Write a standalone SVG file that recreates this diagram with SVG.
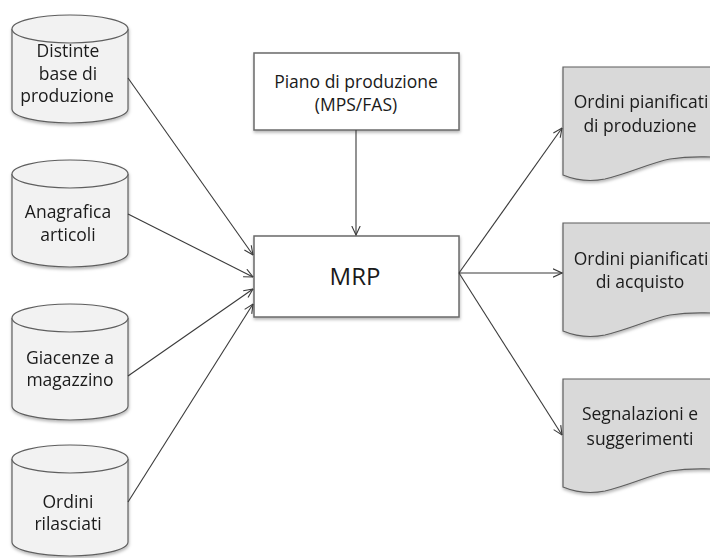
<svg xmlns="http://www.w3.org/2000/svg" width="710" height="558" viewBox="0 0 710 558">
  <defs>
    <marker id="arrow" viewBox="0 0 10 10" refX="9.5" refY="5" markerWidth="10" markerHeight="10" markerUnits="userSpaceOnUse" orient="auto">
      <path d="M0.5,0.8 L9.5,5 L0.5,9.2" fill="none" stroke="#3a3a3a" stroke-width="1.1"/>
    </marker>
    <filter id="shadow" x="-10%" y="-10%" width="130%" height="130%">
      <feDropShadow dx="0.5" dy="2" stdDeviation="1.5" flood-color="#000" flood-opacity="0.28"/>
    </filter>
  </defs>
  <style>
    .db { fill: #f2f2f2; stroke: #5f5f5f; stroke-width: 1.2; }
    .box { fill: #ffffff; stroke: #6a6a6a; stroke-width: 1.5; }
    .doc { fill: #d9d9d9; stroke: #5f5f5f; stroke-width: 1.2; }
    .lbl { font-family: "Open Sans", "Noto Sans", "Liberation Sans", sans-serif; font-size: 17.5px; fill: #1a1a1a; text-anchor: middle; }
    .big { font-size: 24px; }
    .conn { fill: none; stroke: #3a3a3a; stroke-width: 1.1; marker-end: url(#arrow); }
  </style>
  <rect width="710" height="558" fill="#ffffff"/>

  <!-- data stores (cylinders) -->
  <g id="distinte-base" filter="url(#shadow)">
    <path class="db" d="M12,29 V109 A58,14 0 0 0 128,109 V29"/>
    <ellipse class="db" cx="70" cy="29" rx="58" ry="14"/>
    <text class="lbl" x="68" y="57">Distinte</text>
    <text class="lbl" x="68" y="80">base di</text>
    <text class="lbl" x="67" y="102">produzione</text>
  </g>
  <g id="anagrafica-articoli" filter="url(#shadow)">
    <path class="db" d="M12,174 V253 A58,14 0 0 0 128,253 V174"/>
    <ellipse class="db" cx="70" cy="174" rx="58" ry="14"/>
    <text class="lbl" x="68" y="218">Anagrafica</text>
    <text class="lbl" x="68" y="241">articoli</text>
  </g>
  <g id="giacenze-magazzino" filter="url(#shadow)">
    <path class="db" d="M12,318 V406 A58,14 0 0 0 128,406 V318"/>
    <ellipse class="db" cx="70" cy="318" rx="58" ry="14"/>
    <text class="lbl" x="70" y="364">Giacenze a</text>
    <text class="lbl" x="70" y="386">magazzino</text>
  </g>
  <g id="ordini-rilasciati" filter="url(#shadow)">
    <path class="db" d="M12,459 V542 A58,14 0 0 0 128,542 V459"/>
    <ellipse class="db" cx="70" cy="459" rx="58" ry="14"/>
    <text class="lbl" x="68" y="508">Ordini</text>
    <text class="lbl" x="68" y="530">rilasciati</text>
  </g>

  <!-- process boxes -->
  <g id="piano-produzione">
    <rect class="box" x="254" y="53" width="205" height="77" filter="url(#shadow)"/>
    <text class="lbl" x="356" y="88">Piano di produzione</text>
    <text class="lbl" x="356" y="111">(MPS/FAS)</text>
  </g>
  <g id="mrp">
    <rect class="box" x="254" y="236" width="205" height="81" filter="url(#shadow)"/>
    <text class="lbl big" x="355" y="285">MRP</text>
  </g>

  <!-- output documents -->
  <g id="ordini-produzione" filter="url(#shadow)">
    <path class="doc" d="M563,67 H712 V157 C700,157 690,156 670,159 C650,163 630,173 605,179 C590,182 575,180 563,175 Z"/>
    <text class="lbl" x="641" y="108">Ordini pianificati</text>
    <text class="lbl" x="640" y="132">di produzione</text>
  </g>
  <g id="ordini-acquisto" filter="url(#shadow)">
    <path class="doc" d="M563,223 H712 V313 C700,313 690,312 670,315 C650,319 630,329 605,335 C590,338 575,336 563,331 Z"/>
    <text class="lbl" x="641" y="265">Ordini pianificati</text>
    <text class="lbl" x="640" y="288">di acquisto</text>
  </g>
  <g id="segnalazioni" filter="url(#shadow)">
    <path class="doc" d="M563,379 H712 V469 C700,469 690,468 670,471 C650,475 630,485 605,491 C590,494 575,492 563,487 Z"/>
    <text class="lbl" x="640" y="420">Segnalazioni e</text>
    <text class="lbl" x="640" y="445">suggerimenti</text>
  </g>

  <!-- connectors -->
  <g id="connectors">
    <line class="conn" x1="128" y1="78" x2="253" y2="255"/>
    <line class="conn" x1="128" y1="214" x2="253" y2="277"/>
    <line class="conn" x1="128" y1="376" x2="253" y2="289"/>
    <line class="conn" x1="128" y1="502" x2="253" y2="304"/>
    <line class="conn" x1="356" y1="130" x2="356" y2="235"/>
    <line class="conn" x1="459" y1="273" x2="562" y2="128"/>
    <line class="conn" x1="459" y1="273" x2="562" y2="273"/>
    <line class="conn" x1="459" y1="273" x2="562" y2="435"/>
  </g>
</svg>
